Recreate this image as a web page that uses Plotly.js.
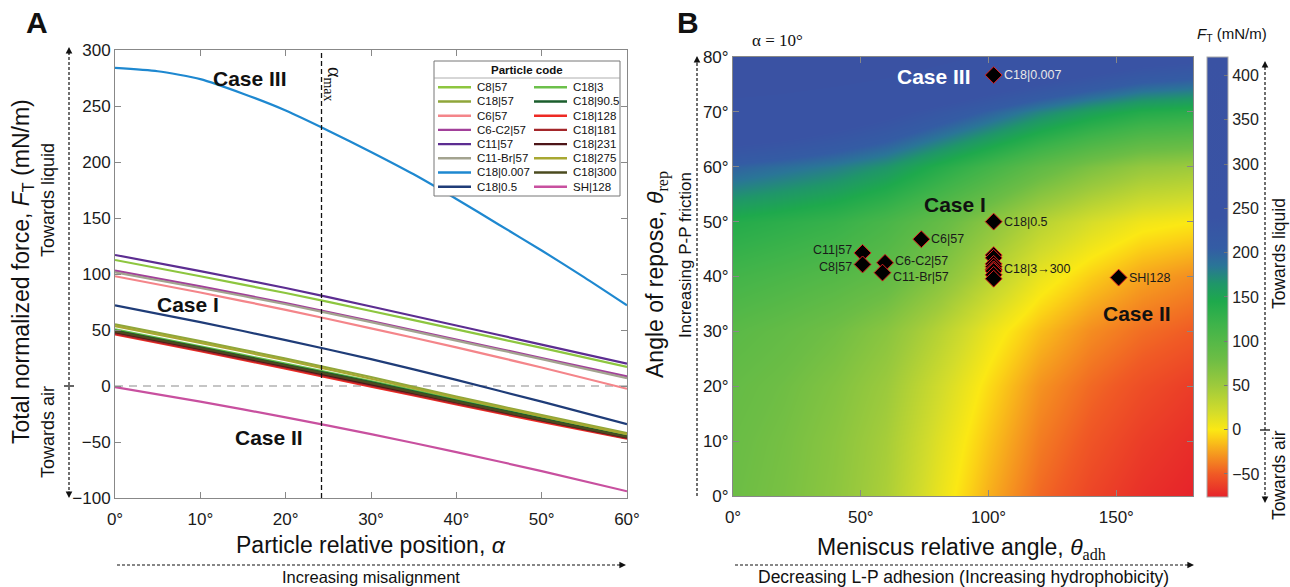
<!DOCTYPE html>
<html><head><meta charset="utf-8">
<script src="https://cdn.plot.ly/plotly-3.0.1.min.js"></script>
<style>body{margin:0;background:#fff}#chart{width:1290px;height:587px}</style>
</head><body><div id="chart"></div>
<script>
// ---------------- DATA ----------------
const alphaDeg = [0, 10, 20, 30, 40, 50, 60];
const alphaFine = [0, 5, 10, 15, 20, 25, 30, 35, 40, 45, 50, 55, 60];
const seriesNames = ['C8|57','C18|57','C6|57','C6-C2|57','C11|57','C11-Br|57','C18|0.007','C18|0.5',
                     'C18|3','C18|90.5','C18|128','C18|181','C18|231','C18|275','C18|300','SH|128'];
const fC8_57    = [112.5, 98, 83, 67, 50.5, 34, 17];
const fC18_57   = [55, 40, 24.5, 8, -9.5, -26, -42];
const fC6_57    = [98, 83.5, 68, 51.5, 34.5, 16.5, -2.5];
const fC6C2_57  = [103, 89, 74, 58, 41.5, 25, 8.5];
const fC11_57   = [117, 102.5, 87.5, 71, 54, 37, 20];
const fC11Br_57 = [101.5, 87.5, 73, 57, 40.5, 24, 7];
const fC18_0007 = [284, 281, 274, 261, 246, 228, 209, 189, 167, 144, 121, 97, 72];
const fC18_05   = [72, 57, 41, 24, 5.5, -14, -34];
const fC18_3    = [50.5, 35.5, 20, 4.5, -12, -28, -44];
const fC18_905  = [49.5, 34.5, 19, 3.5, -13, -29, -45];
const fC18_128  = [46, 31, 15.5, -0.5, -16.5, -32, -47];
const fC18_181  = [47, 32, 16.5, 0.5, -15.5, -31, -46.5];
const fC18_231  = [48, 33, 17.5, 1.5, -14.5, -30.5, -46];
const fC18_275  = [53.5, 38.5, 23, 6.5, -10.5, -27, -43];
const fC18_300  = [48.8, 33.8, 18.3, 2.5, -14, -30, -45.5];
const fSH_128   = [-1, -14, -28, -43, -59, -76, -94];
const seriesValues = [fC8_57, fC18_57, fC6_57, fC6C2_57, fC11_57, fC11Br_57, fC18_0007, fC18_05,
                      fC18_3, fC18_905, fC18_128, fC18_181, fC18_231, fC18_275, fC18_300, fSH_128];
const alphaMax = 24.2;
const xTickLabelsA = ['0°', '10°', '20°', '30°', '40°', '50°', '60°'];

// Panel B: force map (alpha = 10 deg)
const thetaAdh = [0, 20, 40, 60, 80, 100, 120, 140, 160, 180];
const thetaRep = [0, 10, 20, 30, 40, 50, 60, 70, 80];
const forceRep0  = [80, 72, 60, 42, 10, -20, -45, -60, -70, -76];
const forceRep10 = [82, 74, 62, 45, 15, -13, -38, -53, -64, -71];
const forceRep20 = [86, 78, 67, 51, 23, -5, -30, -45, -56, -64];
const forceRep30 = [95, 87, 77, 62, 37, 8, -15, -32, -43, -50];
const forceRep40 = [115, 108, 100, 89, 66, 36, 8, -10, -24, -32];
const forceRep50 = [140, 133, 125, 110, 88, 62, 36, 18, 5, 0];
const forceRep60 = [200, 190, 180, 165, 140, 115, 90, 70, 55, 50];
const forceRep70 = [300, 290, 270, 250, 225, 200, 175, 155, 140, 135];
const forceRep80 = [420, 410, 400, 380, 350, 320, 300, 280, 260, 250];
const forceGrid = [forceRep0, forceRep10, forceRep20, forceRep30, forceRep40, forceRep50, forceRep60, forceRep70, forceRep80];
const xTickValsB = [0, 50, 100, 150];
const xTickLabelsB = ['0°', '50°', '100°', '150°'];

const particleLabels = ['C18|0.007','C18|0.5','C6|57','C11|57','C8|57','C6-C2|57','C11-Br|57',
                        'C18|57','C18|275','C18|3','C18|90.5','C18|300','C18|231','C18|181','C18|128','SH|128'];
const particleAdh = [102, 102, 73.7, 50.7, 50.7, 59.5, 58.5, 102, 102, 102, 102, 102, 102, 102, 102, 150.9];
const particleRep = [76.7, 50.0, 46.8, 44.3, 42.2, 42.5, 40.7, 43.9, 43.4, 42.3, 41.8, 41.3, 41.0, 40.3, 39.6, 39.8];
const pointText   = ['C18|0.007','C18|0.5','C6|57','C11|57','C8|57','C6-C2|57','C11-Br|57',
                     '','','','','C18|3→300','','','','SH|128'];
const cbTicks = [-50, 0, 50, 100, 150, 200, 250, 300, 350, 400];

// ---------------- STYLE ----------------
const seriesColors = ['#8dc63f','#8fa63a','#f4858a','#a2409a','#5c2d91','#a3a38f','#1e88d0','#1f3c78',
                      '#6cc04a','#1b5e2d','#ee2a24','#a3262a','#4d1518','#a8a832','#4b4b1f','#c8509f'];
const FONT = 'Liberation Sans, Arial, Helvetica, sans-serif';
const SERIF = 'Liberation Serif, DejaVu Serif, serif';
const W = 1290, H = 587;
const px = x => x / W, py = y => 1 - y / H;

const traces = [];
seriesNames.forEach((n, i) => {
  const xs = seriesValues[i].length === alphaFine.length ? alphaFine : alphaDeg;
  traces.push({type:'scatter', mode:'lines', x: xs, y: seriesValues[i], name: n,
    line:{color: seriesColors[i], width: 2.2, shape:'spline', smoothing: 0.6},
    xaxis:'x', yaxis:'y', showlegend:false, hoverinfo:'name+y'});
});

const fmin = -76, fmax = 421;
const stop = v => (v - fmin) / (fmax - fmin);
const cscale = [
  [0, '#e6232a'], [stop(-50), '#f05a25'], [stop(-25), '#f6a01e'], [stop(-8), '#fbd216'],
  [stop(0), '#fbe814'], [stop(20), '#d3dc2b'], [stop(50), '#9dca3c'], [stop(80), '#6cbd45'],
  [stop(120), '#3db34a'], [stop(145), '#1ea94c'], [stop(165), '#1f9669'], [stop(185), '#2a7597'],
  [stop(205), '#345ca4'], [stop(240), '#3953a4'], [1, '#3a52a3']
];
traces.push({type:'heatmap', x: thetaAdh, y: thetaRep, z: forceGrid, zsmooth:'best',
  zmin: fmin, zmax: fmax, colorscale: cscale, xaxis:'x2', yaxis:'y2', hoverinfo:'z',
  colorbar:{x: px(1207), xanchor:'left', y: py(497), yanchor:'bottom', len: 440/H, lenmode:'fraction',
    thickness: 21, thicknessmode:'pixels', xpad:0, ypad:0, outlinewidth:1, outlinecolor:'#aaa',
    tickvals: cbTicks, ticks:'inside', ticklen:4, tickcolor:'#777',
    tickfont:{family:FONT, size:16, color:'#222'}}
});
traces.push({type:'scatter', mode:'markers', x: particleAdh, y: particleRep,
  marker:{symbol:'diamond', size:13, color:'#000', line:{color:'#e02020', width:1}},
  hovertext: particleLabels, hoverinfo:'text', xaxis:'x2', yaxis:'y2', showlegend:false, cliponaxis:false});

const axBase = {showline:true, linecolor:'#888', linewidth:1, mirror:'ticks', ticks:'inside', ticklen:6,
  tickcolor:'#888', showgrid:false, zeroline:false, tickfont:{family:FONT, size:17, color:'#1a1a1a'}};

const shapes = [];
const annotations = [];
const line = (x0,y0,x1,y1,color,width,dash) => shapes.push({type:'line', xref:'paper', yref:'paper',
  x0:px(x0), y0:py(y0), x1:px(x1), y1:py(y1), line:{color, width, dash: dash||'solid'}, layer:'above'});
const txt = (x, y, text, size, o) => annotations.push(Object.assign({xref:'paper', yref:'paper',
  x:px(x), y:py(y), text, showarrow:false, xanchor:'center', yanchor:'middle',
  font:{family:FONT, size, color:'#111'}}, o||{}));
const head = (x, y, dx, dy) => annotations.push({xref:'paper', yref:'paper', x:px(x), y:py(y), ax:dx, ay:dy,
  text:'', showarrow:true, arrowhead:2, arrowsize:1.1, arrowwidth:1.2, arrowcolor:'#111', standoff:0});

// point labels (placed next to the markers)
const labelShift = {'C11|57':[-9, 3, 'right'], 'C8|57':[-9, -3, 'right'], 'C6-C2|57':[8, 2, 'left'], 'C11-Br|57':[8, -4, 'left']};
pointText.forEach((t, i) => {
  if (!t) return;
  const s = labelShift[t] || [8, 0, 'left'];
  annotations.push({xref:'x2', yref:'y2', x: particleAdh[i], y: particleRep[i], text: t, showarrow:false,
    xanchor: s[2], yanchor:'middle', xshift: s[0], yshift: s[1],
    font:{family:FONT, size:12.5, color: t === 'C18|0.007' ? '#e8e8e8' : '#1a1a1a'}});
});

// data-referenced guides
shapes.push({type:'line', xref:'x', yref:'y', x0:0, x1:60, y0:0, y1:0, line:{color:'#b3b3b3', width:1.6, dash:'8px,6px'}, layer:'below'});
shapes.push({type:'line', xref:'x', yref:'y', x0:alphaMax, x1:alphaMax, y0:-100, y1:300, line:{color:'#111', width:1.3, dash:'5px,3px'}, layer:'above'});

// legend box (manual, two columns)
shapes.push({type:'rect', xref:'paper', yref:'paper', x0:px(434), x1:px(620), y0:py(196), y1:py(61),
  fillcolor:'#fff', line:{color:'#777', width:1}, layer:'above'});
line(434, 78, 620, 78, '#999', 0.8);
txt(527, 69.5, '<b>Particle code</b>', 11.5);
seriesNames.forEach((n, i) => {
  const col = i < 8 ? 0 : 1, row = i % 8;
  const yy = 87.3 + row * 14.2;
  const lx = col ? 534 : 438;
  line(lx, yy, lx + 33, yy, seriesColors[i], 2.4);
  txt(lx + 37, yy, n, 11.5, {xanchor:'left'});
});

// panel A decorations
txt(37, 22, '<b>A</b>', 30);
txt(688, 22, '<b>B</b>', 30);
txt(22, 272, 'Total normalized force, <i>F</i><sub>T</sub> (mN/m)', 23, {textangle:-90});
txt(48, 200, 'Towards liquid', 18, {textangle:-90});
txt(48, 432, 'Towards air', 18, {textangle:-90});
line(69, 52, 69, 493, '#111', 1.2, '3px,2px');
head(69, 47, 0, 8); head(69, 498, 0, -8);
line(64, 386, 74, 386, '#111', 1.3);
txt(371, 545, 'Particle relative position, <i>α</i>', 23);
line(117, 565, 620, 565, '#111', 1.2, '3px,2px');
head(626, 565, -8, 0);
txt(371, 576.5, 'Increasing misalignment', 16.5);
txt(250, 78, '<b>Case III</b>', 21);
txt(188, 304, '<b>Case I</b>', 21);
txt(269, 437, '<b>Case II</b>', 21);
txt(334, 84, 'α<sub>max</sub>', 20, {textangle:90, font:{family:SERIF, size:20, color:'#111'}});

// panel B decorations
txt(657, 275, 'Angle of repose, <i>θ</i><sub><span style="font-family:' + SERIF + '">rep</span></sub>', 23, {textangle:-90});
txt(685, 255, 'Increasing P-P friction', 17, {textangle:-90});
line(697, 496, 697, 62, '#111', 1.2, '3px,2px');
head(697, 56, 0, 8);
txt(962, 548, 'Meniscus relative angle, <i>θ</i><sub><span style="font-family:' + SERIF + '">adh</span></sub>', 23);
line(735, 565, 1188, 565, '#111', 1.2, '3px,2px');
head(1194, 565, -8, 0);
txt(963, 576.5, 'Decreasing L-P adhesion (Increasing hydrophobicity)', 17.5);
txt(777, 40, 'α = 10°', 17, {font:{family:SERIF, size:17, color:'#111'}});
txt(1232, 34, '<i>F</i><sub>T</sub> (mN/m)', 15);
line(1265, 67, 1265, 497, '#111', 1.2, '3px,2px');
head(1265, 61, 0, 8); head(1265, 503, 0, -8);
line(1260, 430, 1270, 430, '#111', 1.3);
txt(1279, 254, 'Towards liquid', 17.5, {textangle:-90});
txt(1279, 475, 'Towards air', 17.5, {textangle:-90});
annotations.push({xref:'x2', yref:'y2', x:78.6, y:76.4, text:'<b>Case III</b>', showarrow:false, font:{family:FONT, size:21, color:'#fff'}});
annotations.push({xref:'x2', yref:'y2', x:87, y:53.2, text:'<b>Case I</b>', showarrow:false, font:{family:FONT, size:21, color:'#111'}});
annotations.push({xref:'x2', yref:'y2', x:158, y:33.3, text:'<b>Case II</b>', showarrow:false, font:{family:FONT, size:21, color:'#111'}});

const layout = {
  width: W, height: H, margin:{l:0, r:0, t:0, b:0}, paper_bgcolor:'#fff', plot_bgcolor:'#fff',
  font:{family:FONT, color:'#111'}, showlegend:false,
  xaxis: Object.assign({}, axBase, {domain:[px(115), px(627)], range:[0, 60], tickmode:'array', tickvals:alphaDeg, ticktext:xTickLabelsA, anchor:'y', ticklabelstandoff:6}),
  yaxis: Object.assign({}, axBase, {domain:[py(498), py(50)], range:[-100, 300], dtick:50, anchor:'x'}),
  xaxis2: Object.assign({}, axBase, {domain:[px(733), px(1193)], range:[0, 180], tickmode:'array', tickvals:xTickValsB, ticktext:xTickLabelsB, anchor:'y2', ticklabelstandoff:6}),
  yaxis2: Object.assign({}, axBase, {domain:[py(496), py(57)], range:[0, 80], dtick:10, ticksuffix:'°', anchor:'x2'}),
  shapes, annotations
};
Plotly.newPlot('chart', traces, layout, {displayModeBar:false, staticPlot:true});
</script></body></html>
